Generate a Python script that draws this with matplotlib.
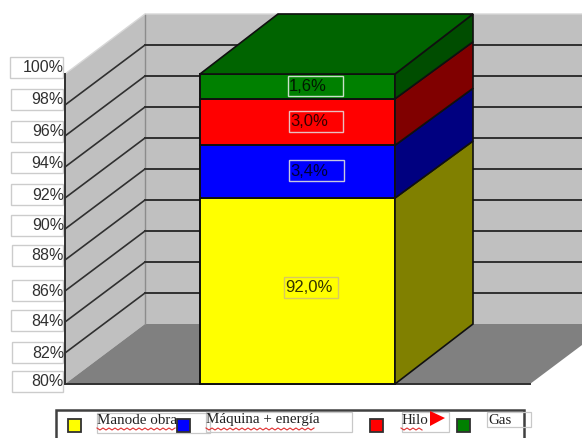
import matplotlib
matplotlib.use("Agg")
import matplotlib.pyplot as plt
from matplotlib.patches import Polygon, Rectangle

plt.rcParams["font.family"] = ["Liberation Sans", "DejaVu Sans"]

# chart data
ticks = [80, 82, 84, 86, 88, 90, 92, 94, 96, 98, 100]
tick_labels = ["80%", "82%", "84%", "86%", "88%", "90%", "92%", "94%", "96%", "98%", "100%"]
series = ["Manode obra", "Máquina + energía", "Hilo", "Gas"]
values = [92.0, 3.4, 3.0, 1.6]
value_labels = ["92,0%", "3,4%", "3,0%", "1,6%"]
front_colors = ["#ffff00", "#0000ff", "#ff0000", "#008000"]
side_colors = ["#808000", "#000080", "#800000", "#004d00"]

# the little label boxes are not aligned in the original
label_boxes = [(12, 371), (12, 342), (11, 310), (12, 280), (12, 245), (11, 215),
               (11, 184), (11, 152), (11, 121), (11, 89), (10, 57)]
value_boxes = [(284, 277, 54, 21), (289, 160, 55, 21), (289, 111, 54, 21), (288, 76, 55, 20)]
value_box_colors = ["#d8c860", "#c8c8e0", "#e8c0c0", "#c8e0c8"]

W, H = 582, 438
Y0, Y100 = 384, 74
DX, DY = 80, -60
LEFT = 65
BAR_L, BAR_R = 200, 395
BAR_DX = 78
GRID = "#303030"


def to_y(v):
    return Y0 + (v - 80) / 20 * (Y100 - Y0)


def side_y(v):
    # the inner joints on the bar side sit a little lower than the ends
    if v <= 80 or v >= 100:
        return to_y(v) + DY
    return to_y(v) + DY + 3


def squiggle(ax, x0, x1, y):
    xs, ys = [], []
    x = x0
    up = True
    while x <= x1:
        xs.append(x)
        ys.append(y - 1 if up else y + 1)
        up = not up
        x += 3
    ax.plot(xs, ys, color="#e03030", lw=0.8, zorder=7)


fig = plt.figure(figsize=(W / 100, H / 100), dpi=100)
ax = fig.add_axes([0, 0, 1, 1])
ax.set_xlim(0, W)
ax.set_ylim(H, 0)
ax.axis("off")

# walls and floor
wall_y = to_y(100) + DY
floor_y = to_y(80) + DY
ax.add_patch(Rectangle((LEFT + DX, wall_y), W - LEFT - DX, floor_y - wall_y, fc="#c0c0c0", ec="none"))
ax.add_patch(Polygon([(LEFT, to_y(100)), (LEFT + DX, wall_y), (LEFT + DX, floor_y), (LEFT, to_y(80))],
                     fc="#c0c0c0", ec="none"))
ax.add_patch(Polygon([(LEFT, to_y(80)), (LEFT + DX, floor_y), (W, floor_y), (W, floor_y + 21), (530, to_y(80))],
                     fc="#808080", ec="none"))
ax.plot([LEFT + DX, LEFT + DX], [wall_y, floor_y], color="#8c8c8c", lw=1)
ax.plot([LEFT, LEFT + DX, W], [to_y(100), wall_y, wall_y], color="#d8d8d8", lw=1)

# gridlines
for t in ticks[1:-1]:
    y = to_y(t)
    ax.plot([LEFT, LEFT + DX], [y, y + DY], color=GRID, lw=1.2)
    ax.plot([LEFT + DX, W], [y + DY, y + DY], color=GRID, lw=1.4)

# stacked bar
base = 0
for i, v in enumerate(values):
    lo = max(base, 80)
    hi = base + v
    ax.add_patch(Polygon([(BAR_L, to_y(lo)), (BAR_R, to_y(lo)), (BAR_R, to_y(hi)), (BAR_L, to_y(hi))],
                         fc=front_colors[i], ec="#101010", lw=1.4, zorder=3))
    ax.add_patch(Polygon([(BAR_R, to_y(lo)), (BAR_R + BAR_DX, side_y(lo)),
                          (BAR_R + BAR_DX, side_y(hi)), (BAR_R, to_y(hi))],
                         fc=side_colors[i], ec="#101010", lw=1.2, zorder=3))
    base = hi
ax.add_patch(Polygon([(BAR_L, to_y(100)), (BAR_R, to_y(100)), (BAR_R + BAR_DX, to_y(100) + DY),
                      (BAR_L + BAR_DX, to_y(100) + DY)], fc="#006400", ec="#101010", lw=1.2, zorder=3))

# value labels
for box, lab, c in zip(value_boxes, value_labels, value_box_colors):
    ax.add_patch(Rectangle(box[:2], box[2], box[3], fc="none", ec=c, lw=1, zorder=4))
    ax.text(box[0] + 1, box[1] + box[3] / 2 + 0.5, lab, fontsize=12, color="black", alpha=0.8,
            va="center", ha="left", zorder=5)

# axis labels
for (bx, by), lab in zip(label_boxes, tick_labels):
    ax.add_patch(Rectangle((bx, by), 63 - bx, 21, fc="white", ec="#cccccc", lw=1, zorder=1.5))
    ax.text(64, by + 11, lab, fontsize=11.5, color="#303030", va="center", ha="right", zorder=6)

# axis line and base
ax.plot([LEFT, LEFT], [to_y(100), to_y(80)], color=GRID, lw=1.4, zorder=2.5)
ax.plot([LEFT, 530], [to_y(80), to_y(80)], color=GRID, lw=1.4, zorder=2.5)

# legend
ax.add_patch(Rectangle((56, 410), 468, 40, fc="white", ec="#404040", lw=1.8, zorder=3))
legend_x = [74, 183, 376, 463]
text_x = [97, 206, 402, 488]
text_y = [421, 420, 420, 420]
text_boxes = [(97, 413, 113, 20), (206, 412, 146, 20), (402, 412, 47, 20), (487, 412, 44, 15)]
squiggles = [(97, 175), (206, 316), (401, 423)]
for i, name in enumerate(series):
    ax.add_patch(Rectangle(text_boxes[i][:2], text_boxes[i][2], text_boxes[i][3], fc="none", ec="#c8c8c8",
                           lw=0.9, zorder=4))
    ax.add_patch(Rectangle((legend_x[i] - 6, 419), 13, 13, fc=front_colors[i], ec="#303030", lw=1.3, zorder=5))
    ax.text(text_x[i], text_y[i], name, fontsize=10.8, family="Liberation Serif", color="#202020",
            va="center", ha="left", zorder=6)
for x0, x1 in squiggles:
    squiggle(ax, x0, x1, 429)
ax.add_patch(Polygon([(430, 411), (445, 418), (430, 426)], fc="#ff0000", ec="none", zorder=7))

fig.savefig("out.png", dpi=100)
